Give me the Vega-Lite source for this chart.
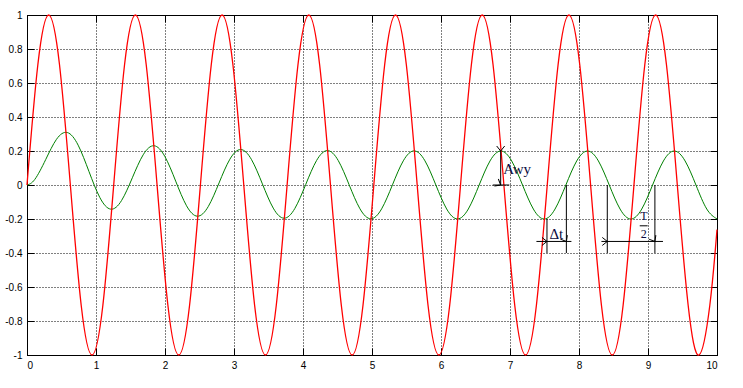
{
  "$schema": "https://vega.github.io/schema/vega-lite/v6.json",
  "width": 690,
  "height": 340,
  "autosize": "none",
  "padding": {"left": 27, "top": 15, "right": 26, "bottom": 33},
  "background": "white",
  "config": {
    "view": {"stroke": "black", "strokeWidth": 1},
    "axis": {
      "labelFont": "Liberation Sans",
      "labelFontSize": 10,
      "labelColor": "black",
      "tickColor": "black",
      "domainColor": "black",
      "tickSize": -7,
      "labelPadding": 12,
      "gridColor": "black",
      "gridDash": [1, 2],
      "gridOpacity": 1,
      "gridWidth": 1,
      "title": null
    }
  },
  "datasets": {
    "red": [
      {"t":0,"v":0},{"t":0.1571,"v":0.7071},{"t":0.3142,"v":1},{"t":0.4712,"v":0.7071},{"t":0.6283,"v":0},{"t":0.7854,"v":-0.7071},{"t":0.9425,"v":-1},{"t":1.0996,"v":-0.7071},
      {"t":1.2566,"v":0},{"t":1.4137,"v":0.7071},{"t":1.5708,"v":1},{"t":1.7279,"v":0.7071},{"t":1.885,"v":0},{"t":2.042,"v":-0.7071},{"t":2.1991,"v":-1},{"t":2.3562,"v":-0.7071},
      {"t":2.5133,"v":0},{"t":2.6704,"v":0.7071},{"t":2.8274,"v":1},{"t":2.9845,"v":0.7071},{"t":3.1416,"v":0},{"t":3.2987,"v":-0.7071},{"t":3.4558,"v":-1},{"t":3.6128,"v":-0.7071},
      {"t":3.7699,"v":0},{"t":3.927,"v":0.7071},{"t":4.0841,"v":1},{"t":4.2412,"v":0.7071},{"t":4.3982,"v":0},{"t":4.5553,"v":-0.7071},{"t":4.7124,"v":-1},{"t":4.8695,"v":-0.7071},
      {"t":5.0265,"v":0},{"t":5.1836,"v":0.7071},{"t":5.3407,"v":1},{"t":5.4978,"v":0.7071},{"t":5.6549,"v":0},{"t":5.8119,"v":-0.7071},{"t":5.969,"v":-1},{"t":6.1261,"v":-0.7071},
      {"t":6.2832,"v":0},{"t":6.4403,"v":0.7071},{"t":6.5973,"v":1},{"t":6.7544,"v":0.7071},{"t":6.9115,"v":0},{"t":7.0686,"v":-0.7071},{"t":7.2257,"v":-1},{"t":7.3827,"v":-0.7071},
      {"t":7.5398,"v":0},{"t":7.6969,"v":0.7071},{"t":7.854,"v":1},{"t":8.0111,"v":0.7071},{"t":8.1681,"v":0},{"t":8.3252,"v":-0.7071},{"t":8.4823,"v":-1},{"t":8.6394,"v":-0.7071},
      {"t":8.7965,"v":0},{"t":8.9535,"v":0.7071},{"t":9.1106,"v":1},{"t":9.2677,"v":0.7071},{"t":9.4248,"v":0},{"t":9.5819,"v":-0.7071},{"t":9.739,"v":-1},{"t":9.896,"v":-0.7071},
      {"t":10,"v":-0.2624}
    ],
    "green": [
      {"t":0,"v":0},{"t":0.1129,"v":0.0328},{"t":0.27,"v":0.1489},{"t":0.4271,"v":0.2686},{"t":0.5842,"v":0.3087},{"t":0.7412,"v":0.2343},{"t":0.8983,"v":0.0794},{"t":1.0554,"v":-0.0735},
      {"t":1.2125,"v":-0.142},{"t":1.3696,"v":-0.0918},{"t":1.5266,"v":0.0424},{"t":1.6837,"v":0.1776},{"t":1.8408,"v":0.2309},{"t":1.9979,"v":0.1678},{"t":2.155,"v":0.0226},{"t":2.312,"v":-0.1221},
      {"t":2.4691,"v":-0.1835},{"t":2.6262,"v":-0.1273},{"t":2.7833,"v":0.0121},{"t":2.9404,"v":0.1517},{"t":3.0974,"v":0.2088},{"t":3.2545,"v":0.1489},{"t":3.4116,"v":0.0064},{"t":3.5687,"v":-0.1359},
      {"t":3.7258,"v":-0.1953},{"t":3.8828,"v":-0.1374},{"t":4.0399,"v":0.0034},{"t":4.197,"v":0.1443},{"t":4.3541,"v":0.2025},{"t":4.5112,"v":0.1435},{"t":4.6682,"v":0.0018},{"t":4.8253,"v":-0.1398},
      {"t":4.9824,"v":-0.1987},{"t":5.1395,"v":-0.1403},{"t":5.2966,"v":0.001},{"t":5.4536,"v":0.1422},{"t":5.6107,"v":0.2007},{"t":5.7678,"v":0.142},{"t":5.9249,"v":0.0005},{"t":6.082,"v":-0.141},
      {"t":6.239,"v":-0.1996},{"t":6.3961,"v":-0.1411},{"t":6.5532,"v":0},{"t":6.7103,"v":0.1414},{"t":6.8674,"v":0.2},{"t":7.0244,"v":0.1414},{"t":7.1815,"v":0},{"t":7.3386,"v":-0.1414},
      {"t":7.4957,"v":-0.2},{"t":7.6528,"v":-0.1414},{"t":7.8098,"v":0},{"t":7.9669,"v":0.1414},{"t":8.124,"v":0.2},{"t":8.2811,"v":0.1414},{"t":8.4382,"v":0},{"t":8.5952,"v":-0.1414},
      {"t":8.7523,"v":-0.2},{"t":8.9094,"v":-0.1414},{"t":9.0665,"v":0},{"t":9.2236,"v":0.1414},{"t":9.3806,"v":0.2},{"t":9.5377,"v":0.1414},{"t":9.6948,"v":0},{"t":9.8519,"v":-0.1414},
      {"t":10,"v":-0.1998}
    ],
    "segs": [
      {"x":6.865,"y":0,"x2":6.865,"y2":0.2},
      {"x":6.75,"y":0,"x2":6.99,"y2":0},
      {"x":7.536,"y":-0.2,"x2":7.536,"y2":-0.4},
      {"x":7.817,"y":0,"x2":7.817,"y2":-0.4},
      {"x":7.383,"y":-0.332,"x2":7.89,"y2":-0.332},
      {"x":8.41,"y":0,"x2":8.41,"y2":-0.4},
      {"x":9.1,"y":0,"x2":9.1,"y2":-0.4},
      {"x":8.325,"y":-0.332,"x2":9.217,"y2":-0.332},
      {"x":8.88,"y":-0.24,"x2":8.995,"y2":-0.24}
    ],
    "heads": [
      {"x":6.865,"y":0.2,"dir":"up"},
      {"x":6.865,"y":0,"dir":"down"},
      {"x":7.536,"y":-0.332,"dir":"right"},
      {"x":7.817,"y":-0.332,"dir":"left"},
      {"x":8.41,"y":-0.332,"dir":"right"},
      {"x":9.1,"y":-0.332,"dir":"left"}
    ],
    "labels": [
      {"x":7.104,"y":0.096,"text":"Awy","size":15},
      {"x":7.672,"y":-0.287,"text":"Δt","size":15},
      {"x":8.94,"y":-0.181,"text":"T","size":12},
      {"x":8.94,"y":-0.29,"text":"2","size":12}
    ]
  },
  "resolve": {"axis": {"x": "independent", "y": "independent"}},
  "layer": [
    {
      "data": {"name": "green"},
      "mark": {"type": "line", "color": "#008000", "strokeWidth": 1, "interpolate": "natural"},
      "encoding": {
        "x": {"field": "t", "type": "quantitative", "scale": {"domain": [0, 10], "nice": false, "zero": false},
              "axis": {"orient": "top", "values": [0,1,2,3,4,5,6,7,8,9,10], "labels": false, "grid": false}},
        "y": {"field": "v", "type": "quantitative", "scale": {"domain": [-1, 1], "nice": false, "zero": false},
              "axis": {"orient": "right", "values": [-1,-0.8,-0.6,-0.4,-0.2,0,0.2,0.4,0.6,0.8,1], "labels": false, "grid": false}}
      }
    },
    {
      "data": {"name": "red"},
      "mark": {"type": "line", "color": "#ff0000", "strokeWidth": 1.3, "interpolate": "natural"},
      "encoding": {
        "x": {"field": "t", "type": "quantitative",
              "axis": {"orient": "bottom", "values": [0,1,2,3,4,5,6,7,8,9,10], "grid": true, "labelExpr": "'' + datum.value"}},
        "y": {"field": "v", "type": "quantitative",
              "axis": {"orient": "left", "values": [-1,-0.8,-0.6,-0.4,-0.2,0,0.2,0.4,0.6,0.8,1], "grid": true, "labelExpr": "'' + datum.value"}}
      }
    },
    {
      "data": {"name": "segs"},
      "mark": {"type": "rule", "color": "black", "strokeWidth": 1},
      "encoding": {
        "x": {"field": "x", "type": "quantitative", "axis": null},
        "x2": {"field": "x2"},
        "y": {"field": "y", "type": "quantitative", "axis": null},
        "y2": {"field": "y2"}
      }
    },
    {
      "data": {"name": "heads"},
      "mark": {"type": "point", "shape": "M-1,-0.8L0,0L-1,0.8", "filled": false, "stroke": "black", "strokeWidth": 1, "size": 100, "opacity": 1},
      "encoding": {
        "x": {"field": "x", "type": "quantitative", "axis": null},
        "y": {"field": "y", "type": "quantitative", "axis": null},
        "angle": {"field": "dir", "type": "nominal", "scale": {"domain": ["right","down","left","up"], "range": [0,90,180,270]}, "legend": null}
      }
    },
    {
      "data": {"name": "labels"},
      "mark": {"type": "text", "font": "Liberation Serif", "color": "#0a0a40", "align": "center", "baseline": "middle"},
      "encoding": {
        "x": {"field": "x", "type": "quantitative", "axis": null},
        "y": {"field": "y", "type": "quantitative", "axis": null},
        "text": {"field": "text"},
        "size": {"field": "size", "type": "quantitative", "scale": null, "legend": null}
      }
    }
  ]
}
